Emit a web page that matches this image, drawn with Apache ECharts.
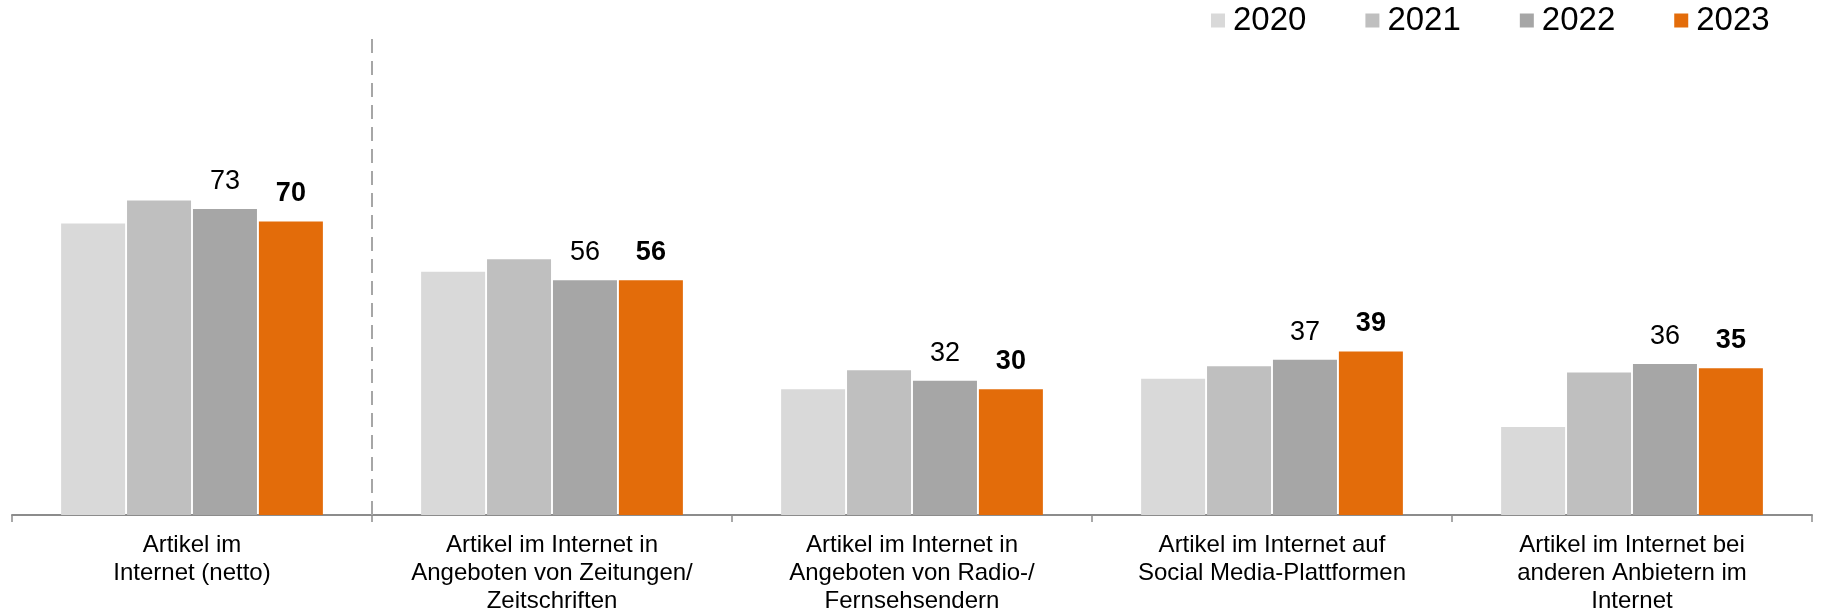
<!DOCTYPE html>
<html>
<head>
<meta charset="utf-8">
<script src="https://cdn.jsdelivr.net/npm/echarts@6/dist/echarts.min.js"></script>
<style>
html,body{margin:0;padding:0;background:#fff;}
#chart{width:1822px;height:611px;}
</style>
</head>
<body>
<div id="chart"></div>
<script>
const categories = [
  "Artikel im\nInternet (netto)",
  "Artikel im Internet in\nAngeboten von Zeitungen/\nZeitschriften",
  "Artikel im Internet in\nAngeboten von Radio-/\nFernsehsendern",
  "Artikel im Internet auf\nSocial Media-Plattformen",
  "Artikel im Internet bei\nanderen Anbietern im\nInternet"
];
const seriesNames = ["2020", "2021", "2022", "2023"];
const values2020 = [69.5, 58, 30, 32.5, 21];
const values2021 = [75, 61, 34.5, 35.5, 34];
const values2022 = [73, 56, 32, 37, 36];
const values2023 = [70, 56, 30, 39, 35];
// dashed separator is drawn after this many categories
const separatorAfter = 1;

const colors = ["#d9d9d9", "#bfbfbf", "#a6a6a6", "#e36c0a"];
const font = "'Liberation Sans', Arial, sans-serif";

const chart = echarts.init(document.getElementById('chart'), null, {renderer: 'canvas'});

function makeSeries(name, data, idx) {
  const s = {
    name: name,
    type: 'bar',
    data: data,
    barWidth: 64,
    barGap: '3%',
    itemStyle: {color: colors[idx]},
    emphasis: {disabled: true},
    animation: false
  };
  if (idx >= 2) {
    s.label = {
      show: true,
      position: 'top',
      distance: 14,
      fontFamily: font,
      fontSize: 27,
      color: '#000',
      fontWeight: idx === 3 ? 'bold' : 'normal'
    };
  }
  return s;
}

chart.setOption({
  animation: false,
  color: colors,
  grid: {left: 12, right: 10, top: 37, bottom: 96, containLabel: false, outerBoundsMode: 'none'},
  legend: {
    data: seriesNames,
    left: 1211,
    top: 4,
    padding: 0,
    icon: 'rect',
    itemWidth: 14,
    itemHeight: 14,
    itemGap: 59,
    textStyle: {fontFamily: font, fontSize: 33, color: '#000', padding: [0, 0, 0, 3]}
  },
  xAxis: [{
    type: 'category',
    data: categories,
    boundaryGap: true,
    axisLine: {show: true, lineStyle: {color: '#8c8c8c', width: 2}},
    axisTick: {show: true, length: 7, lineStyle: {color: '#8c8c8c', width: 1.5}},
    axisLabel: {
      interval: 0,
      margin: 16,
      fontFamily: font,
      fontSize: 24,
      lineHeight: 28,
      color: '#000',
      align: 'center'
    },
    splitLine: {show: false}
  }, {
    type: 'value',
    min: 0,
    max: categories.length,
    show: false,
    splitLine: {show: false}
  }],
  yAxis: {
    type: 'value',
    min: 0,
    max: 114,
    show: false,
    splitLine: {show: false}
  },
  series: [
    makeSeries(seriesNames[0], values2020, 0),
    makeSeries(seriesNames[1], values2021, 1),
    makeSeries(seriesNames[2], values2022, 2),
    makeSeries(seriesNames[3], values2023, 3),
    {
      name: 'separator',
      type: 'line',
      xAxisIndex: 1,
      yAxisIndex: 0,
      data: [],
      silent: true,
      markLine: {
        silent: true,
        symbol: 'none',
        label: {show: false},
        lineStyle: {color: '#a6a6a6', width: 2, type: [14, 8]},
        data: [{xAxis: separatorAfter}]
      }
    }
  ]
});
</script>
</body>
</html>
